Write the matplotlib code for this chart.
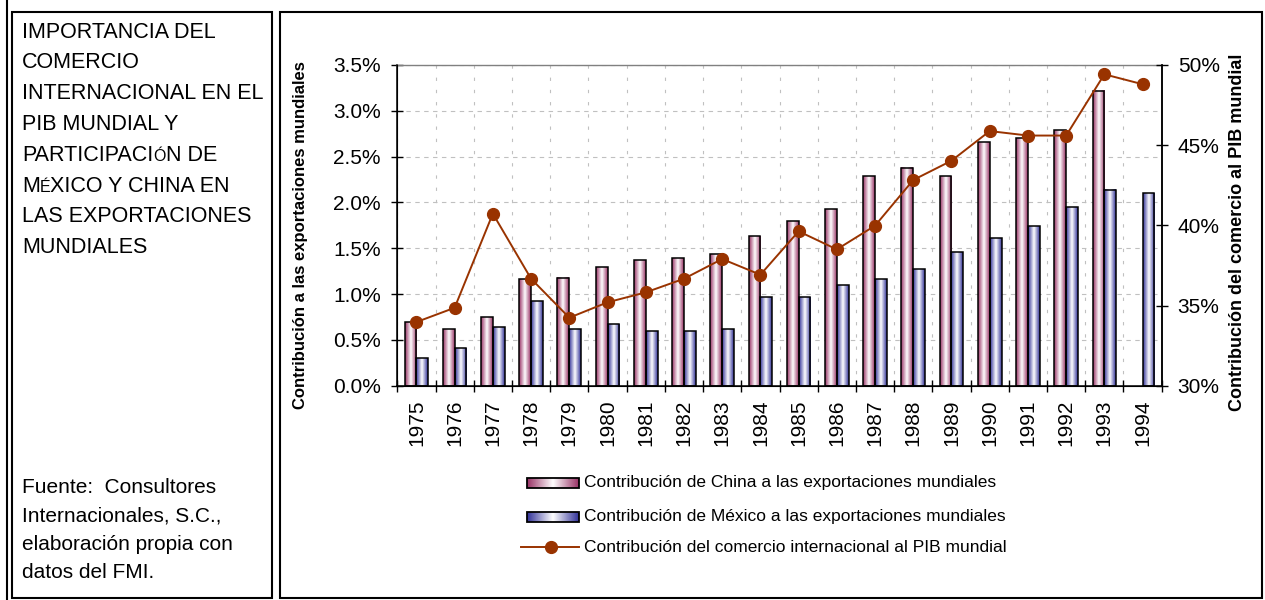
import numpy as np
import matplotlib
matplotlib.use("Agg")
import matplotlib.pyplot as plt
from matplotlib.colors import LinearSegmentedColormap
from matplotlib.patches import Rectangle
from matplotlib.ticker import FuncFormatter, MultipleLocator, FixedLocator

# Data
years = [1975, 1976, 1977, 1978, 1979, 1980, 1981, 1982, 1983, 1984,
         1985, 1986, 1987, 1988, 1989, 1990, 1991, 1992, 1993, 1994]
china = [0.69, 0.62, 0.75, 1.16, 1.18, 1.29, 1.37, 1.39, 1.44, 1.63,
         1.80, 1.93, 2.29, 2.38, 2.29, 2.66, 2.70, 2.79, 3.22, np.nan]
mexico = [0.30, 0.41, 0.64, 0.92, 0.62, 0.67, 0.60, 0.60, 0.62, 0.97,
          0.97, 1.10, 1.16, 1.27, 1.46, 1.61, 1.74, 1.95, 2.14, 2.10]
pib = [33.97, 34.86, 40.73, 36.67, 34.24, 35.20, 35.82, 36.67, 37.90, 36.92,
       39.63, 38.50, 39.98, 42.83, 44.03, 45.88, 45.60, 45.60, 49.42, 48.80]

series_labels = ["Contribución de China a las exportaciones mundiales",
                 "Contribución de México a las exportaciones mundiales",
                 "Contribución del comercio internacional al PIB mundial"]
left_label = "Contribución a las exportaciones mundiales"
right_label = "Contribución del comercio al PIB mundial"
title_lines = ["IMPORTANCIA DEL", "COMERCIO", "INTERNACIONAL EN EL", "PIB MUNDIAL Y",
               "PARTICIPACIÓN DE", "MÉXICO Y CHINA EN", "LAS EXPORTACIONES", "MUNDIALES"]
source_lines = ["Fuente:  Consultores", "Internacionales, S.C.,",
                "elaboración propia con", "datos del FMI."]
SMALL_CAPS = {"Ó", "É"}

plt.rcParams["font.family"] = ["Liberation Sans", "DejaVu Sans"]

W, H = 1265, 600
CHINA_DARK = "#993366"
MEX_DARK = "#333399"
LINE_COLOR = "#993300"
china_cmap = LinearSegmentedColormap.from_list("china", [CHINA_DARK, "white", CHINA_DARK])
mex_cmap = LinearSegmentedColormap.from_list("mex", [MEX_DARK, "white", MEX_DARK])
grad = np.linspace(0, 1, 64).reshape(1, -1)

fig = plt.figure(figsize=(W / 100, H / 100), dpi=100)
ax = fig.add_axes([397.3 / W, 1 - 385.7 / H, 764.4 / W, 320.7 / H])

x = np.arange(len(years))
bw = 0.31
bars_c = ax.bar(x - bw / 2, china, bw, facecolor="none", edgecolor="black", lw=1.1, zorder=3)
bars_m = ax.bar(x + bw / 2, mexico, bw, facecolor="none", edgecolor="black", lw=1.1, zorder=3)

# gradient fill inside each bar
for bars, cmap in ((bars_c, china_cmap), (bars_m, mex_cmap)):
    for b in bars:
        h = b.get_height()
        if not np.isfinite(h) or h <= 0:
            continue
        ax.imshow(grad, cmap=cmap, aspect="auto", zorder=2.5, interpolation="bilinear",
                  extent=(b.get_x(), b.get_x() + b.get_width(), 0, h))

ax.set_xlim(-0.5, len(years) - 0.5)
ax.set_ylim(0, 3.5)
ax.yaxis.set_major_locator(MultipleLocator(0.5))
ax.yaxis.set_major_formatter(FuncFormatter(lambda v, p: f"{v:.1f}%"))
ax.xaxis.set_major_locator(FixedLocator(x))
ax.set_xticklabels([str(y) for y in years], rotation=90)
ax.xaxis.set_minor_locator(FixedLocator(np.arange(len(years) + 1) - 0.5))
ax.tick_params(axis="x", which="major", length=0, pad=10, labelsize=15)
ax.tick_params(axis="x", which="minor", direction="inout", length=8.5, width=1)
ax.tick_params(axis="y", direction="inout", length=8, width=1, pad=8, labelsize=15)

ax.grid(axis="y", which="major", color="#c0c0c0", lw=0.8, ls=(0, (4, 4)), zorder=0)
ax.grid(axis="x", which="minor", color="#c0c0c0", lw=0.8, ls=(0, (3, 8)), zorder=0)
ax.set_axisbelow(True)
for side in ("left", "bottom", "right"):
    ax.spines[side].set_linewidth(1.1)
ax.spines["top"].set_color("#808080")
ax.spines["top"].set_linewidth(1.0)

ax2 = ax.twinx()
ax2.plot(x, pib, color=LINE_COLOR, lw=1.4, marker="o", ms=8.5, clip_on=False, zorder=5)
ax2.set_ylim(30, 50)
ax2.yaxis.set_major_locator(MultipleLocator(5))
ax2.yaxis.set_major_formatter(FuncFormatter(lambda v, p: f"{v:.0f}%"))
ax2.tick_params(axis="y", direction="inout", length=8, width=1, pad=7.5, labelsize=15)
ax2.spines["right"].set_linewidth(1.1)
ax2.spines["top"].set_visible(False)

# overlay axes in pixel coordinates for boxes, texts and legend
lax = fig.add_axes([0, 0, 1, 1])
lax.set_xlim(0, W)
lax.set_ylim(H, 0)
lax.axis("off")

lax.add_patch(Rectangle((12, 12), 260, 586, fill=False, lw=1.5, ec="black"))
lax.add_patch(Rectangle((280, 12), 982, 586, fill=False, lw=1.5, ec="black"))
lax.plot([6.5, 6.5], [0, H], color="black", lw=1.5)

fig.text(300 / W, 1 - 235 / H, left_label, rotation=90, ha="center", va="center",
         fontsize=12, fontweight="bold")
fig.text(1237 / W, 1 - 232 / H, right_label, rotation=90, ha="center", va="center",
         fontsize=13, fontweight="bold")

renderer = fig.canvas.get_renderer()


def caps_line(x0, base, s, size=15.5, small=11.5):
    pieces, chunk = [], ""
    for ch in s:
        if ch in SMALL_CAPS:
            pieces.append((chunk, size))
            pieces.append((ch, small))
            chunk = ""
        else:
            chunk += ch
    pieces.append((chunk, size))
    for txt, fs in pieces:
        if not txt:
            continue
        t = lax.text(x0, base, txt, fontsize=fs, ha="left", va="baseline")
        x0 += t.get_window_extent(renderer).width


for i, line in enumerate(title_lines):
    caps_line(22, 37.7 + i * 30.8, line)
for i, line in enumerate(source_lines):
    lax.text(22, 493 + i * 28.4, line, fontsize=15, ha="left", va="baseline")

# legend
rows = [483, 517, 547]
for row, cmap in zip(rows[:2], (china_cmap, mex_cmap)):
    lax.imshow(grad, cmap=cmap, aspect="auto", interpolation="bilinear",
               extent=(527, 579, row + 5, row - 5))
    lax.add_patch(Rectangle((527, row - 5), 52, 10, fill=False, lw=1.3, ec="black"))
lax.plot([521, 579], [rows[2], rows[2]], color=LINE_COLOR, lw=1.4)
lax.plot([551], [rows[2]], color=LINE_COLOR, marker="o", ms=8.5)
for row, lab in zip(rows, series_labels):
    lax.text(584, row, lab, fontsize=12.5, ha="left", va="center")
lax.set_xlim(0, W)
lax.set_ylim(H, 0)

fig.savefig("out.png", dpi=100)
